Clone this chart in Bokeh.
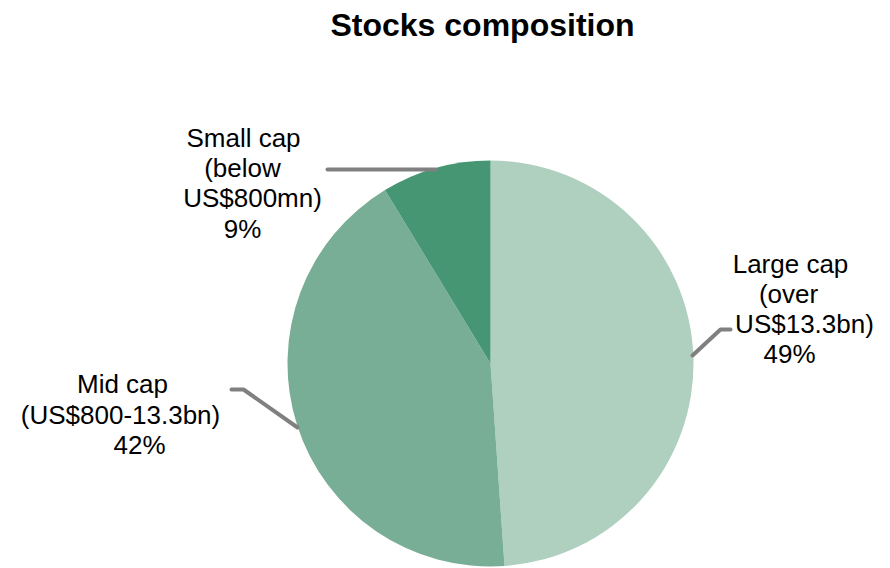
import numpy as np
from bokeh.plotting import figure
from bokeh.models import ColumnDataSource, Range1d
from bokeh.core.properties import value
from bokeh.embed import file_html
from bokeh.resources import INLINE

# ---- data ----
categories = ["Large cap", "Mid cap", "Small cap"]
shares = [48.9, 42.4, 8.7]
slice_colors = ["#afcfbf", "#79ae96", "#469673"]

label_lines = [
    ["Large cap", "(over", "US$13.3bn)", "49%"],
    ["Mid cap", "(US$800-13.3bn)", "42%"],
    ["Small cap", "(below", "US$800mn)", "9%"],
]
title_text = "Stocks composition"

# ---- layout (reference pixel space) ----
W, H = 890, 568
FONT = "Liberation Sans"

def Y(ref_y):
    return H - ref_y

p = figure(width=W, height=H, output_backend="svg", toolbar_location=None,
           x_range=Range1d(0, W), y_range=Range1d(0, H),
           min_border=0, outline_line_color=None)
p.axis.visible = False
p.grid.visible = False
p.background_fill_color = "white"
p.border_fill_color = "white"

# pie wedges
fr = np.array(shares) / np.sum(shares)
cum = np.concatenate([[0], np.cumsum(fr)])
start = np.pi / 2 - 2 * np.pi * cum[:-1]
end = np.pi / 2 - 2 * np.pi * cum[1:]
src = ColumnDataSource(dict(cat=categories, start=start, end=end, color=slice_colors))
cx, cy, r = 490, Y(363), 203
p.wedge(x=cx, y=cy, radius=r, start_angle="start", end_angle="end",
        direction="clock", fill_color="color", line_color=None, source=src)

# leader lines
lc = "#808080"
p.line([327, 435], [Y(169), Y(169)], line_color=lc, line_width=4, line_cap="round")
p.line([231, 243, 297], [Y(389), Y(389), Y(427)], line_color=lc, line_width=4, line_cap="round")
p.line([692, 720, 730], [Y(355), Y(329), Y(329)], line_color=lc, line_width=4, line_cap="round")

# labels
label_x = [[790, 788, 804, 789], [122, 120, 139], [243, 242, 252, 242]]
label_base = [[263, 293, 323, 353], [383, 414, 444], [137, 167, 197, 228]]
for lines, xs, ys in zip(label_lines, label_x, label_base):
    p.text(x=xs, y=[Y(v) for v in ys], text=lines, text_font=value(FONT),
           text_font_size="26px", text_align="center", text_baseline="alphabetic",
           text_color="#000000")

# title
p.text(x=[482], y=[Y(24)], text=[title_text], text_font=value(FONT),
       text_font_size="32px", text_font_style="bold", text_align="center",
       text_baseline="alphabetic", text_color="#000000")

open("out.html", "w").write(file_html(p, INLINE))
